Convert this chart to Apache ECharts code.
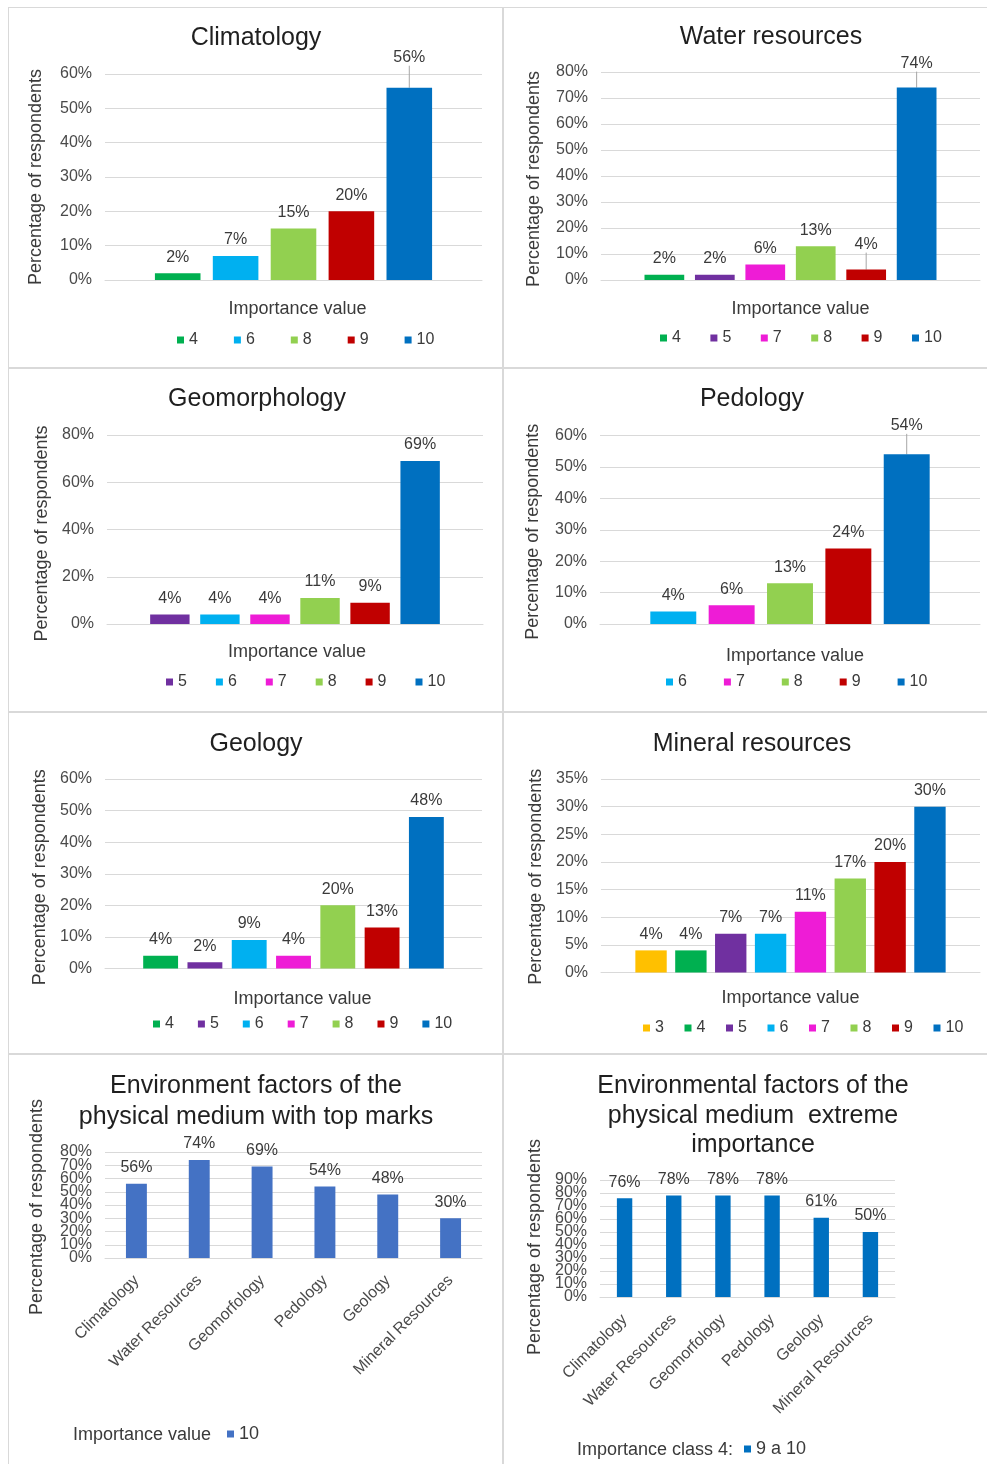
<!DOCTYPE html>
<html>
<head>
<meta charset="utf-8">
<title>Importance of physical-medium factors</title>
<script src="https://cdn.jsdelivr.net/npm/echarts@6/dist/echarts.min.js"></script>
<style>
  html, body { margin: 0; padding: 0; background: #fff; }
  body { width: 987px; height: 1464px; position: relative; overflow: hidden; }
  .panel { position: absolute; }
  .frame { position: absolute; border: 1px solid #d9d9d9; box-sizing: border-box; pointer-events: none; }
</style>
</head>
<body>
<script>
// ---- survey results (percentage of respondents per importance value) ----
const climatologyValues = ['4', '6', '8', '9', '10'];
const climatologyShares = [2, 7, 15, 20, 56];

const waterValues = ['4', '5', '7', '8', '9', '10'];
const waterShares = [2, 2, 6, 13, 4, 74];

const geomorphologyValues = ['5', '6', '7', '8', '9', '10'];
const geomorphologyShares = [4, 4, 4, 11, 9, 69];

const pedologyValues = ['6', '7', '8', '9', '10'];
const pedologyShares = [4, 6, 13, 24, 54];

const geologyValues = ['4', '5', '6', '7', '8', '9', '10'];
const geologyShares = [4, 2, 9, 4, 20, 13, 48];

const mineralValues = ['3', '4', '5', '6', '7', '8', '9', '10'];
const mineralShares = [4, 4, 7, 7, 11, 17, 20, 30];

// summary across factors
const factorNames = ['Climatology', 'Water Resources', 'Geomorfology', 'Pedology', 'Geology', 'Mineral Resources'];
const topMarkShares = [56, 74, 69, 54, 48, 30];      // importance value 10
const extremeShares = [76, 78, 78, 78, 61, 50];      // importance class 4 (9 a 10)

// ---- styling ----
const FONT = "'Liberation Sans', Arial, sans-serif";
const TEXT = '#3a3a3a';
const AXIS_TEXT = '#4a4a4a';
const GRID = '#d9d9d9';
const importanceColors = {
  '3': '#FFC000', '4': '#00B050', '5': '#7030A0', '6': '#00B0F0',
  '7': '#EE1CD6', '8': '#92D050', '9': '#C00000', '10': '#0070C0'
};

function addPanel(frame, option) {
  const el = document.createElement('div');
  el.className = 'panel';
  Object.assign(el.style, { left: frame.x + 'px', top: frame.y + 'px', width: frame.w + 'px', height: frame.h + 'px' });
  document.body.appendChild(el);
  const border = document.createElement('div');
  border.className = 'frame';
  Object.assign(border.style, { left: frame.x + 'px', top: frame.y + 'px', width: frame.w + 'px', height: frame.h + 'px' });
  document.body.appendChild(border);
  const chart = echarts.init(el, null, { renderer: 'canvas' });
  chart.setOption(option);
}

function titleOption(cfg, ox, oy, lineHeight) {
  const lines = cfg.title.split('\n').length;
  return {
    text: cfg.title,
    left: cfg.titleX - ox,
    top: cfg.titleY - oy - lines * lineHeight / 2,
    textAlign: 'center',
    padding: 0,
    textStyle: { fontFamily: FONT, fontSize: 25, fontWeight: 'normal', color: '#1f1f1f', lineHeight: lineHeight }
  };
}

function tickLabelStyle(extra) {
  return Object.assign({ fontFamily: FONT, fontSize: 16, color: AXIS_TEXT, margin: 13, hideOverlap: false }, extra);
}

function valueAxis(cfg, labelExtra) {
  return {
    type: 'value', min: 0, max: cfg.yMax, interval: cfg.yStep,
    name: 'Percentage of respondents', nameLocation: 'middle', nameRotate: 90, nameGap: cfg.yNameGap,
    nameTextStyle: { fontFamily: FONT, fontSize: 18, color: TEXT, padding: [0, cfg.yNameShift * 2, 0, 0] },
    axisLabel: tickLabelStyle(labelExtra || { formatter: '{value}%' }),
    splitLine: { lineStyle: { color: GRID, width: 1 } },
    axisLine: { show: false }, axisTick: { show: false }
  };
}

// The summary axes are so tight that the tick labels touch; the end labels sit on
// the main axis and the inner ones on a twin axis so that every label is kept.
function tightValueAxes(cfg) {
  const main = valueAxis(cfg, {
    formatter: v => (v === 0 || v === cfg.yMax) ? v + '%' : '',
    showMinLabel: true, showMaxLabel: true
  });
  const inner = {
    type: 'value', min: 0, max: cfg.yMax, interval: cfg.yStep, position: 'left',
    axisLabel: tickLabelStyle({ formatter: '{value}%', showMinLabel: false, showMaxLabel: false }),
    splitLine: { show: false }, axisLine: { show: false }, axisTick: { show: false }
  };
  return [main, inner];
}

// one chart per factor: every importance value is its own series, clustered in one slot
function importancePanel(cfg) {
  const f = cfg.frame, ox = f.x, oy = f.y;
  const n = cfg.values.length;
  const gw = cfg.grid.r - cfg.grid.l;
  const barWidth = gw / (n + 0.27 * (n - 1) + 2.19);
  return {
    animation: false,
    textStyle: { fontFamily: FONT },
    title: titleOption(cfg, ox, oy, 30),
    grid: { left: cfg.grid.l - ox, top: cfg.grid.t - oy, width: gw, height: cfg.grid.b - cfg.grid.t },
    xAxis: {
      type: 'category', data: [''],
      name: 'Importance value', nameLocation: 'middle', nameGap: cfg.xNameGap,
      nameTextStyle: { fontFamily: FONT, fontSize: 18, color: TEXT, padding: [0, 0, 0, cfg.xNameShift * 2] },
      axisLine: { lineStyle: { color: GRID } }, axisTick: { show: false }, axisLabel: { show: false }
    },
    yAxis: valueAxis(cfg),
    legend: {
      data: cfg.values, left: cfg.legend.x - ox, top: cfg.legend.y - oy - 9, padding: 0,
      icon: 'rect', itemWidth: 7, itemHeight: 7, itemGap: cfg.legend.gap,
      textStyle: { fontFamily: FONT, fontSize: 16, color: TEXT }
    },
    series: cfg.values.map((v, i) => {
      const lift = cfg.lift[v] || 0;
      return {
        name: v, type: 'bar', data: [cfg.shares[i]],
        barWidth: barWidth, barGap: '27%',
        itemStyle: { color: importanceColors[v] },
        label: { show: true, position: 'top', distance: 8, formatter: '{c}%', fontFamily: FONT, fontSize: 16, color: TEXT },
        labelLayout: lift ? { dy: -lift } : undefined,
        labelLine: { show: !!lift, lineStyle: { color: '#a6a6a6', width: 1 } }
      };
    })
  };
}

// summary chart: one series across the six factors
function summaryPanel(cfg) {
  const f = cfg.frame, ox = f.x, oy = f.y;
  return {
    animation: false,
    textStyle: { fontFamily: FONT },
    title: titleOption(cfg, ox, oy, cfg.titleLine),
    grid: { left: cfg.grid.l - ox, top: cfg.grid.t - oy, width: cfg.grid.r - cfg.grid.l, height: cfg.grid.b - cfg.grid.t },
    xAxis: {
      type: 'category', data: factorNames,
      axisLine: { lineStyle: { color: GRID } }, axisTick: { show: false },
      axisLabel: { rotate: 45, interval: 0, fontFamily: FONT, fontSize: 16, color: AXIS_TEXT, margin: 20 }
    },
    yAxis: tightValueAxes(cfg),
    legend: {
      data: [cfg.legendName], left: cfg.legend.x - ox, top: cfg.legend.y - oy - 9, padding: 0,
      icon: 'rect', itemWidth: 7, itemHeight: 7,
      textStyle: { fontFamily: FONT, fontSize: 18, color: TEXT }
    },
    graphic: [{
      type: 'text', x: cfg.legendLead.x - ox, y: cfg.legend.y - oy + 1,
      style: { text: cfg.legendLead.text, fontFamily: FONT, fontSize: 18, fill: TEXT, align: 'left', verticalAlign: 'middle' }
    }],
    series: [{
      name: cfg.legendName, type: 'bar', data: cfg.shares, yAxisIndex: 0,
      barCategoryGap: cfg.categoryGap,
      itemStyle: { color: cfg.color },
      label: { show: true, position: 'top', distance: 8, formatter: '{c}%', fontFamily: FONT, fontSize: 16, color: TEXT }
    }]
  };
}

const LEFT_X = 8, RIGHT_X = 503;
const LEFT_W = 495, RIGHT_W = 490;

addPanel({ x: LEFT_X, y: 7, w: LEFT_W, h: 361 }, importancePanel({
  frame: { x: LEFT_X, y: 7 }, title: 'Climatology', titleX: 256, titleY: 38,
  values: climatologyValues, shares: climatologyShares,
  grid: { l: 105, r: 482, t: 74, b: 280 }, yMax: 60, yStep: 10, yNameGap: 60, yNameShift: 0,
  xNameGap: 20, xNameShift: 4, legend: { x: 177, y: 341, gap: 36 }, lift: { '10': 14 }
}));

addPanel({ x: RIGHT_X, y: 7, w: RIGHT_W, h: 361 }, importancePanel({
  frame: { x: RIGHT_X, y: 7 }, title: 'Water resources', titleX: 771, titleY: 37,
  values: waterValues, shares: waterShares,
  grid: { l: 601, r: 980, t: 72, b: 280 }, yMax: 80, yStep: 10, yNameGap: 58, yNameShift: 3,
  xNameGap: 20, xNameShift: 10, legend: { x: 660, y: 339, gap: 29.5 }, lift: { '9': 9, '10': 8 }
}));

addPanel({ x: LEFT_X, y: 368, w: LEFT_W, h: 344 }, importancePanel({
  frame: { x: LEFT_X, y: 368 }, title: 'Geomorphology', titleX: 257, titleY: 399,
  values: geomorphologyValues, shares: geomorphologyShares,
  grid: { l: 107, r: 483, t: 435, b: 624 }, yMax: 80, yStep: 20, yNameGap: 56, yNameShift: 4,
  xNameGap: 19, xNameShift: 2, legend: { x: 166, y: 683, gap: 29 }, lift: {}
}));

addPanel({ x: RIGHT_X, y: 368, w: RIGHT_W, h: 344 }, importancePanel({
  frame: { x: RIGHT_X, y: 368 }, title: 'Pedology', titleX: 752, titleY: 399,
  values: pedologyValues, shares: pedologyShares,
  grid: { l: 600, r: 980, t: 435.5, b: 624 }, yMax: 60, yStep: 10, yNameGap: 58, yNameShift: 2,
  xNameGap: 23, xNameShift: 5, legend: { x: 666, y: 683, gap: 37 }, lift: { '10': 12.5 }
}));

addPanel({ x: LEFT_X, y: 712, w: LEFT_W, h: 342 }, importancePanel({
  frame: { x: LEFT_X, y: 712 }, title: 'Geology', titleX: 256, titleY: 744,
  values: geologyValues, shares: geologyShares,
  grid: { l: 105, r: 482, t: 779, b: 968.5 }, yMax: 60, yStep: 10, yNameGap: 54, yNameShift: 3.5,
  xNameGap: 22, xNameShift: 9, legend: { x: 153, y: 1025, gap: 24 }, lift: {}
}));

addPanel({ x: RIGHT_X, y: 712, w: RIGHT_W, h: 342 }, importancePanel({
  frame: { x: RIGHT_X, y: 712 }, title: 'Mineral resources', titleX: 752, titleY: 744,
  values: mineralValues, shares: mineralShares,
  grid: { l: 601, r: 980, t: 779, b: 972.5 }, yMax: 35, yStep: 5, yNameGap: 56, yNameShift: 1,
  xNameGap: 17, xNameShift: 0, legend: { x: 643, y: 1029, gap: 20.6 }, lift: {}
}));

addPanel({ x: LEFT_X, y: 1054, w: LEFT_W, h: 420 }, summaryPanel({
  frame: { x: LEFT_X, y: 1054 }, title: 'Environment factors of the\nphysical medium with top marks',
  titleX: 256, titleY: 1101.5, titleLine: 31,
  shares: topMarkShares, color: '#4472C4', categoryGap: '66.7%',
  grid: { l: 105, r: 482, t: 1152, b: 1258 }, yMax: 80, yStep: 10, yNameGap: 59, yNameShift: 2,
  legendName: '10', legend: { x: 227, y: 1434 }, legendLead: { x: 73, text: 'Importance value' }
}));

addPanel({ x: RIGHT_X, y: 1054, w: RIGHT_W, h: 420 }, summaryPanel({
  frame: { x: RIGHT_X, y: 1054 }, title: 'Environmental factors of the\nphysical medium  extreme\nimportance',
  titleX: 753, titleY: 1116, titleLine: 29.5,
  shares: extremeShares, color: '#0070C0', categoryGap: '68.7%',
  grid: { l: 600, r: 895, t: 1180, b: 1297 }, yMax: 90, yStep: 10, yNameGap: 54, yNameShift: 8.5,
  legendName: '9 a 10', legend: { x: 744, y: 1449 }, legendLead: { x: 577, text: 'Importance class 4:' }
}));
</script>
</body>
</html>
